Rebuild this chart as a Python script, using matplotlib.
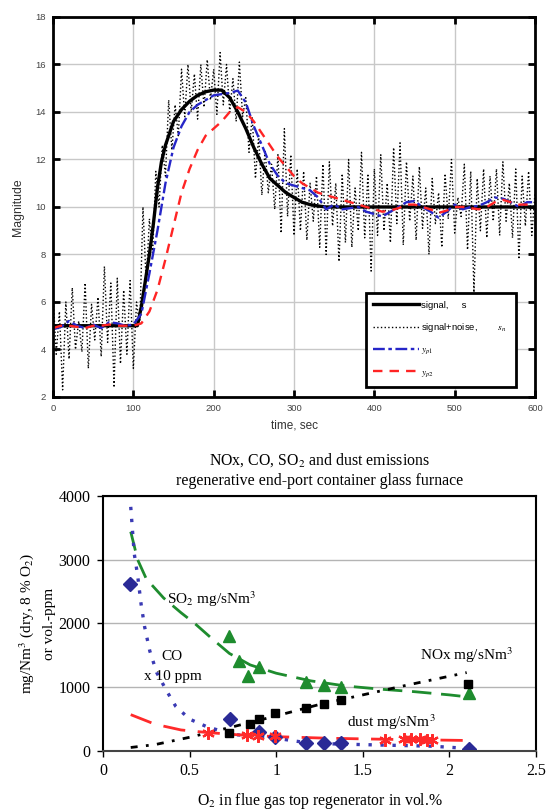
import numpy as np
import matplotlib
matplotlib.use('Agg')
import matplotlib.pyplot as plt

plt.rcParams['mathtext.fontset'] = 'stix'

# ---- top panel data (time, sec) ----
t_sig = [0, 100, 105, 110, 115, 120, 125, 130, 135, 140, 150, 160, 170, 180, 190, 200,
         210, 220, 230, 240, 250, 260, 270, 280, 290, 300, 310, 320, 330, 340, 600]
s_sig = [5, 5, 5.0, 5.8, 6.9, 8.0, 9.3, 10.8, 11.9, 12.6, 13.6, 14.1, 14.45, 14.7, 14.85, 14.92,
         14.92, 14.6, 14.0, 13.3, 12.5, 11.8, 11.2, 10.9, 10.6, 10.4, 10.2, 10.1, 10.04, 10.0, 10.0]

t_noise = list(range(0, 601, 4))
s_noise = [6.3, 3.8, 5.6, 2.3, 6.0, 3.6, 6.6, 4.0, 5.2, 3.9, 6.8, 3.2, 5.9, 4.4, 6.2, 3.7,
           7.5, 4.3, 6.8, 2.4, 7.0, 3.4, 6.5, 3.8, 6.9, 3.2, 6.0, 5.0, 10.0, 6.8, 9.5, 8.0,
           11.5, 10.0, 12.6, 11.3, 14.5, 12.4, 14.3, 13.0, 15.8, 13.8, 16.0, 14.0, 15.6, 13.7,
           16.0, 14.2, 16.2, 14.5, 15.8, 13.9, 16.5, 14.3, 16.0, 14.0, 15.4, 13.6, 16.1, 13.8,
           14.6, 12.3, 13.8, 11.2, 13.0, 10.5, 12.4, 10.6, 11.8, 9.9, 12.2, 8.9, 13.3, 9.6,
           12.2, 8.8, 11.6, 9.0, 11.5, 8.6, 11.0, 9.4, 11.3, 8.3, 11.8, 8.0, 11.9, 9.2, 11.0,
           7.7, 11.4, 8.5, 12.0, 8.3, 10.8, 9.0, 12.3, 8.7, 11.4, 7.3, 11.6, 8.8, 12.2, 9.0,
           11.0, 8.5, 12.5, 9.3, 12.7, 8.4, 11.9, 9.4, 11.3, 8.6, 11.7, 9.1, 10.8, 8.0, 11.2,
           9.3, 10.6, 8.3, 11.4, 9.5, 12.0, 8.9, 10.4, 9.6, 11.8, 8.2, 11.5, 6.4, 11.2, 9.0,
           11.6, 8.7, 11.3, 9.4, 11.6, 8.8, 11.9, 9.4, 11.0, 8.7, 11.6, 7.8, 11.3, 9.2, 11.5,
           8.8, 10.6]

t_f = list(range(0, 601, 10))
y_p1 = [4.85, 4.95, 5.2, 5.0, 4.9, 5.05, 4.9, 5.15, 5.1, 5.0, 5.05, 5.5, 7.2, 9.0, 11.0,
        12.5, 13.4, 14.0, 14.3, 14.5, 14.7, 14.75, 14.8, 14.9, 14.4, 13.4, 12.6, 11.8, 11.3,
        11.0, 10.9, 10.8, 10.7, 10.4, 9.9, 10.1, 9.9, 9.95, 10.0, 9.8, 9.7, 9.6, 9.8, 10.0,
        10.2, 10.25, 10.0, 9.8, 9.55, 9.8, 10.1, 9.9, 10.0, 10.05, 10.2, 10.4, 10.35, 10.2,
        10.0, 10.2, 10.2]
y_p2 = [4.9, 5.0, 5.0, 4.95, 4.9, 5.0, 5.0, 5.05, 5.0, 5.0, 5.0, 5.1, 5.6, 6.5, 7.8, 9.2,
        10.6, 11.6, 12.4, 13.0, 13.3, 13.6, 14.0, 14.2, 14.0, 13.6, 13.1, 12.6, 12.1, 11.7,
        11.3, 11.0, 10.8, 10.6, 10.5, 10.4, 10.3, 10.2, 10.1, 10.0, 9.9, 9.8, 9.85, 9.95,
        10.1, 10.1, 10.0, 9.9, 9.75, 9.85, 10.0, 10.0, 9.95, 9.9, 10.0, 10.2, 10.3, 10.2,
        10.1, 10.1, 10.15]

# ---- bottom panel data (O2 vol.%) ----
so2_x = [0.73, 0.785, 0.84, 0.90, 1.17, 1.275, 1.372, 2.115]
so2_y = [1810, 1408, 1173, 1325, 1080, 1043, 1001, 913]
so2_fit_x = [0.16, 0.2, 0.25, 0.35, 0.45, 0.53, 0.63, 0.73, 0.85, 1.0, 1.2, 1.4, 1.6, 1.8, 2.0, 2.1]
so2_fit_y = [3440, 3000, 2700, 2400, 2170, 2000, 1760, 1530, 1350, 1220, 1100, 1020, 970, 930, 880, 850]

nox_x = [0.726, 0.85, 0.903, 0.993, 1.17, 1.276, 1.372, 2.11]
nox_y = [280, 425, 495, 600, 675, 740, 805, 1050]
nox_fit_x = [0.16, 0.3, 0.5, 0.75, 1.0, 1.25, 1.5, 1.75, 2.1]
nox_fit_y = [55, 100, 215, 380, 550, 730, 880, 1030, 1230]

co_x = [0.158, 0.731, 0.899, 0.993, 1.17, 1.276, 1.372, 2.115]
co_y = [2625, 495, 300, 225, 130, 130, 130, 25]
co_fit_x = [0.16, 0.18, 0.2, 0.22, 0.24, 0.27, 0.31, 0.37, 0.42, 0.5, 0.6, 0.75, 1.0, 1.2, 1.5, 1.9, 2.11]
co_fit_y = [3830, 3100, 2750, 2300, 1950, 1570, 1230, 930, 700, 500, 380, 260, 200, 120, 100, 75, 40]

dust_x = [0.605, 0.83, 0.897, 0.993, 1.63, 1.74, 1.78, 1.83, 1.87, 1.90]
dust_y = [290, 255, 240, 235, 180, 185, 185, 185, 180, 180]
dust_fit_x = [0.16, 0.3, 0.45, 0.6, 0.8, 1.0, 1.3, 1.6, 2.1]
dust_fit_y = [570, 420, 330, 290, 250, 225, 200, 185, 165]

fig = plt.figure(figsize=(5.48, 8.11), dpi=100)

# ================= top panel =================
ax1 = fig.add_axes([0.0967, 0.5105, 0.8796, 0.4686])
sans = 'Liberation Sans'
ax1.plot(t_noise, s_noise, color='black', linestyle=':', linewidth=1.0,
         label='signal+noise,        $s_n$')
ax1.plot(t_sig, s_sig, color='black', linewidth=2.4, label='signal,     s')
ax1.plot(t_f, y_p1, color='#2626c8', linestyle='-.', linewidth=1.7,
         dashes=(5, 1.5, 1.5, 1.5), label='$y_{p1}$')
ax1.plot(t_f, y_p2, color='#ff2424', linestyle='--', linewidth=1.7,
         dashes=(4, 3), label='$y_{p2}$')
ax1.set_xlim(0, 600)
ax1.set_ylim(2, 18)
ax1.set_xticks(range(0, 601, 100))
ax1.set_yticks(range(2, 19, 2))
ax1.grid(True, color='#c8c8c8', linewidth=1.0)
ax1.set_axisbelow(True)
ax1.tick_params(direction='in', length=5, width=2, top=True, right=True,
                labelsize=6.8, labelcolor='#444444', pad=5)
for lab in ax1.get_xticklabels() + ax1.get_yticklabels():
    lab.set_family(sans)
for sp in ax1.spines.values():
    sp.set_linewidth(2)
ax1.set_xlabel('time, sec', fontsize=8.5, family=sans, color='#333333', labelpad=5)
ax1.set_ylabel('Magnitude', fontsize=8.8, family=sans, color='#333333', labelpad=8)

handles, labels = ax1.get_legend_handles_labels()
order = [1, 0, 2, 3]
leg = ax1.legend([handles[i] for i in order], [labels[i] for i in order],
                 loc='upper left', bbox_to_anchor=(0.639, 0.039, 0.332, 0.247),
                 mode='expand', fancybox=False, framealpha=1, edgecolor='black',
                 prop={'family': sans, 'size': 6.8}, handlelength=4.8,
                 labelspacing=1.2, borderpad=0.8, handletextpad=0.3)
leg.get_frame().set_linewidth(2)

# ================= bottom panel =================
serif = 'Liberation Serif'
ax2 = fig.add_axes([0.188, 0.074, 0.790, 0.3144])
ax2.plot(so2_fit_x, so2_fit_y, color='#1e8c2e', linewidth=2, dashes=(7, 3.5))
ax2.plot(nox_fit_x, nox_fit_y, color='black', linewidth=2, dashes=(2.5, 3, 1, 3))
ax2.plot(co_fit_x, co_fit_y, color='#3a3ab4', linewidth=2.4, dashes=(1, 2.6))
ax2.plot(dust_fit_x, dust_fit_y, color='#ff2a2a', linewidth=2, dashes=(8, 4.5))

ax2.plot(so2_x, so2_y, linestyle='none', marker='^', markersize=9, color='#1e8c2e')
ax2.plot(nox_x, nox_y, linestyle='none', marker='s', markersize=6, color='black')
ax2.plot(co_x, co_y, linestyle='none', marker='D', markersize=7.5, color='#2a2a96')
ax2.plot(dust_x, dust_y, linestyle='none', marker=(6, 2, 0), markersize=9,
         markeredgewidth=1.6, color='#ff2a2a')

ax2.set_xlim(0, 2.5)
ax2.set_ylim(0, 4000)
ax2.set_xticks([0, 0.5, 1, 1.5, 2, 2.5])
ax2.set_xticklabels(['0', '0.5', '1', '1.5', '2', '2.5'])
ax2.set_yticks([0, 1000, 2000, 3000, 4000])
ax2.yaxis.grid(True, color='#b4b4b4', linewidth=1.0)
ax2.set_axisbelow(True)
ax2.tick_params(direction='out', length=4, width=1, labelsize=11.5, pad=5)
for lab in ax2.get_xticklabels() + ax2.get_yticklabels():
    lab.set_family(serif)
for sp in ax2.spines.values():
    sp.set_linewidth(1.5)
ax2.spines['bottom'].set_color('#444444')

ax2.set_title('NOx, CO, SO$_2$ and dust emissions\nregenerative end-port container glass furnace',
              fontsize=11.4, family=serif, pad=8, linespacing=1.35)
ax2.set_xlabel('O$_2$ in flue gas top regenerator in vol.%', fontsize=11.3, family=serif,
               labelpad=8)
ax2.set_ylabel('mg/Nm$^3$ (dry, 8 % O$_2$)\nor vol.-ppm', fontsize=11, family=serif,
               linespacing=1.75)
ax2.yaxis.set_label_coords(-0.108, 0.5)

ax2.text(0.37, 2380, 'SO$_2$ mg/sNm$^3$', fontsize=11, family=serif, va='center')
ax2.text(0.335, 1490, 'CO', fontsize=11, family=serif, va='center')
ax2.text(0.235, 1170, 'x 10 ppm', fontsize=11, family=serif, va='center')
ax2.text(1.83, 1510, 'NOx mg/sNm$^3$', fontsize=11, family=serif, va='center')
ax2.text(1.41, 445, 'dust mg/sNm$^3$', fontsize=11, family=serif, va='center')

fig.savefig('out.png', dpi=100)
